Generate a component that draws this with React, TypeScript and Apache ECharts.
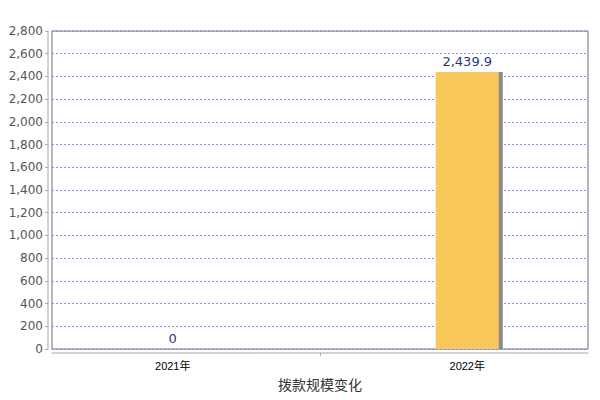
import React, { useRef, useEffect } from 'react';
import * as echarts from 'echarts';

const categories = ['2021年', '2022年'];
const amounts = [0, 2439.9];
const yTicks = [0, 2800, 200]; // min, max, interval
const axisTitle = '拨款规模变化';

const fmt = (v: number) =>
  v.toLocaleString('en-US', { maximumFractionDigits: 1, minimumFractionDigits: v % 1 ? 1 : 0 });

const App: React.FC = () => {
  const chartRef = useRef<HTMLDivElement>(null);

  useEffect(() => {
    if (!chartRef.current) return;
    const chart = echarts.init(chartRef.current, undefined, { renderer: 'svg' });

    const option: echarts.EChartsOption = {
      animation: false,
      backgroundColor: '#fff',
      grid: {
        left: 52,
        right: 12,
        top: 31,
        bottom: 51,
        show: true,
        borderColor: '#6e6e6e',
        borderWidth: 1,
      },
      xAxis: {
        type: 'value',
        min: -0.41,
        max: 1.41,
        offset: 4,
        name: axisTitle,
        nameLocation: 'middle',
        nameGap: 24,
        nameTextStyle: { fontSize: 14, color: '#333', fontFamily: 'Noto Sans CJK SC' },
        axisLine: { show: true, onZero: false, lineStyle: { color: '#c4c4c4', width: 1.5 } },
        axisTick: { show: true, customValues: [0.5], length: 3, lineStyle: { color: '#aaa' } },
        axisLabel: {
          customValues: [0, 1],
          formatter: (v: number) => categories[Math.round(v)] ?? '',
          color: '#000',
          fontSize: 11,
          margin: 7,
          fontFamily: 'Liberation Sans, Noto Sans CJK SC',
        },
        splitLine: { show: false },
      },
      yAxis: {
        type: 'value',
        min: yTicks[0],
        max: yTicks[1],
        interval: yTicks[2],
        offset: 4,
        axisLine: { show: true, onZero: false, lineStyle: { color: '#c4c4c4', width: 1.5 } },
        axisTick: { show: true, length: 3, lineStyle: { color: '#aaa' } },
        axisLabel: {
          color: '#555',
          fontSize: 12,
          margin: 5,
          fontFamily: 'DejaVu Sans',
          formatter: (v: number) => fmt(v),
        },
        splitLine: { lineStyle: { color: '#8a8af8', type: [2, 2], width: 1 } },
      },
      series: [
        {
          type: 'bar',
          data: amounts.map((v, i) => [i, v]),
          barWidth: 63,
          itemStyle: {
            color: '#f8c75a',
            shadowColor: '#8a8a8a',
            shadowOffsetX: 4,
            shadowOffsetY: 0,
            shadowBlur: 0,
          },
          label: {
            show: true,
            position: 'top',
            distance: 4,
            color: '#1f3a7a',
            fontSize: 13,
            fontFamily: 'DejaVu Sans',
            formatter: (p: any) => fmt(p.value[1]),
          },
        },
      ],
    };

    chart.setOption(option);
    return () => chart.dispose();
  }, []);

  return <div ref={chartRef} style={{ width: 600, height: 400, margin: -8 }} />;
};

export default App;
